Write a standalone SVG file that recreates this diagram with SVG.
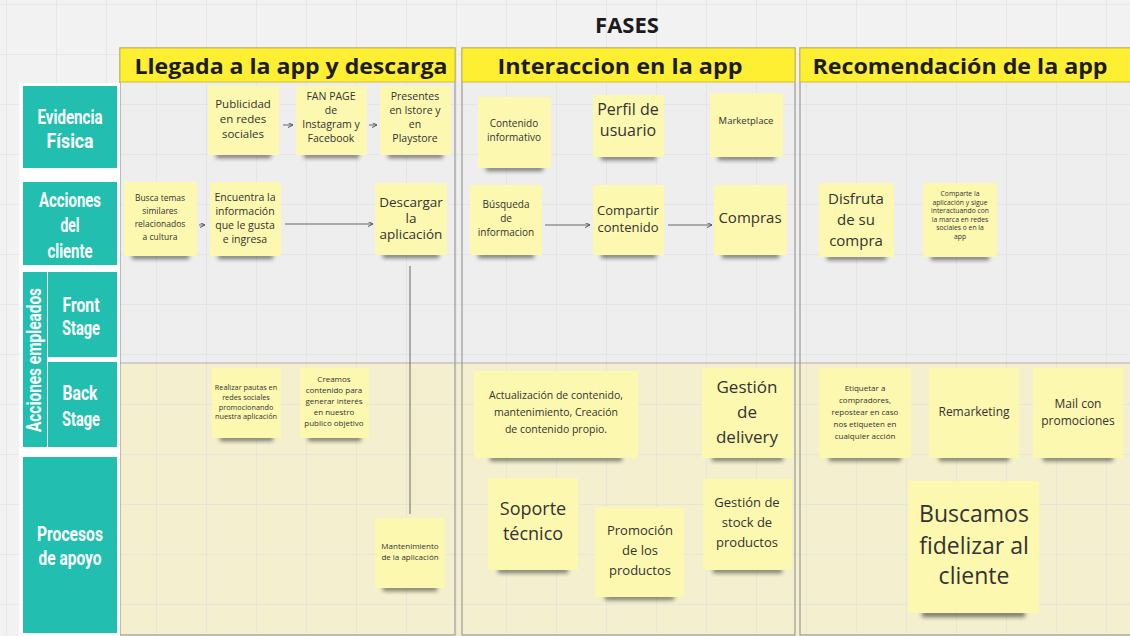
<svg xmlns="http://www.w3.org/2000/svg" width="1130" height="636" viewBox="0 0 1130 636">
<defs>
<pattern id="grid" x="7" y="5" width="50" height="50" patternUnits="userSpaceOnUse">
<path d="M50 0 V50 M0 50 H50" fill="none" stroke="#dcdcdc" stroke-width="1"/>
</pattern>
<filter id="blur" x="-30%" y="-200%" width="160%" height="500%"><feGaussianBlur stdDeviation="2.2"/></filter>
<marker id="arr" viewBox="0 0 6 6" refX="6" refY="3" markerWidth="5" markerHeight="5" markerUnits="userSpaceOnUse" orient="auto">
<path d="M0 0 L6 3 L0 6" fill="none" stroke="#555" stroke-width="1.2"/>
</marker>
</defs>
<style>
.n{fill:#fdf8b0}
.sh{fill:#222;opacity:.6;filter:url(#blur)}
.t{font-family:"Open Sans","Liberation Sans",sans-serif;fill:#333;text-anchor:middle}
.h{font-family:"Open Sans","Liberation Sans",sans-serif;font-weight:bold;fill:#1c1c1c;text-anchor:middle;font-size:22px}
.hb{fill:#feef33;stroke:#cdbd36;stroke-width:1}
.teal{fill:#22bfb1}
.lb{font-family:Roboto,"DejaVu Sans",sans-serif;font-weight:bold;fill:#fff;text-anchor:middle;font-size:20px}
.col{fill:none;stroke:#9a9a9a;stroke-width:1.2}
.c{stroke:#666;stroke-width:1;fill:none}
</style>
<rect width="1130" height="636" fill="#f2f2f2"/>
<g id="lanes">
<rect x="120" y="82" width="1010" height="281" fill="#eeeeee"/>
<rect x="120" y="363" width="1010" height="273" fill="#f4efcf"/>
</g>
<rect width="1130" height="636" fill="url(#grid)"/>
<g id="frames">
<line x1="120" y1="363" x2="1130" y2="363" stroke="#b0b0b0" stroke-width="1"/>
<rect class="col" x="120" y="48" width="335" height="587"/>
<rect class="col" x="462" y="48" width="333" height="587"/>
<rect class="col" x="800" y="48" width="340" height="587"/>
</g>
<text class="h" x="627" y="33" font-size="23">FASES</text>
<g id="header-1"><rect class="hb" x="120" y="48" width="335" height="34"/><text class="h" x="291" y="74" textLength="313" lengthAdjust="spacingAndGlyphs">Llegada a la app y descarga</text></g>
<g id="header-2"><rect class="hb" x="462" y="48" width="333" height="34"/><text class="h" x="620" y="74" textLength="245" lengthAdjust="spacingAndGlyphs">Interaccion en la app</text></g>
<g id="header-3"><rect class="hb" x="800" y="48" width="340" height="34"/><text class="h" x="960" y="74" textLength="295" lengthAdjust="spacingAndGlyphs">Recomendación de la app</text></g>
<rect x="19" y="83" width="101" height="553" fill="#ffffff"/>
<g id="row-evidencia"><rect class="teal" x="23" y="86" width="94" height="82"/>
<text class="lb" x="70" y="124" textLength="65" lengthAdjust="spacingAndGlyphs">Evidencia</text>
<text class="lb" x="70" y="148" textLength="47" lengthAdjust="spacingAndGlyphs">Física</text></g>
<g id="row-acciones-cliente"><rect class="teal" x="23" y="182" width="94" height="83"/>
<text class="lb" x="70" y="207" textLength="62" lengthAdjust="spacingAndGlyphs">Acciones</text>
<text class="lb" x="70" y="232" textLength="19" lengthAdjust="spacingAndGlyphs">del</text>
<text class="lb" x="70" y="258" textLength="45" lengthAdjust="spacingAndGlyphs">cliente</text></g>
<g id="row-acciones-empleados"><rect class="teal" x="23" y="272" width="24" height="175"/>
<text class="lb" transform="translate(41,360) rotate(-90)" x="0" y="0" textLength="144" lengthAdjust="spacingAndGlyphs">Acciones empleados</text></g>
<g id="row-front"><rect class="teal" x="48" y="272" width="69" height="85"/>
<text class="lb" x="81" y="312" textLength="37" lengthAdjust="spacingAndGlyphs">Front</text>
<text class="lb" x="81" y="335" textLength="38" lengthAdjust="spacingAndGlyphs">Stage</text></g>
<g id="row-back"><rect class="teal" x="48" y="362" width="69" height="85"/>
<text class="lb" x="80" y="400" textLength="35" lengthAdjust="spacingAndGlyphs">Back</text>
<text class="lb" x="81" y="426" textLength="38" lengthAdjust="spacingAndGlyphs">Stage</text></g>
<g id="row-procesos"><rect class="teal" x="23" y="457" width="94" height="176"/>
<text class="lb" x="70" y="541" textLength="66" lengthAdjust="spacingAndGlyphs">Procesos</text>
<text class="lb" x="70" y="565" textLength="63" lengthAdjust="spacingAndGlyphs">de apoyo</text></g>
<g id="connectors">
<line class="c" x1="283" y1="125" x2="293" y2="125" marker-end="url(#arr)"/>
<line class="c" x1="369" y1="125" x2="377" y2="125" marker-end="url(#arr)"/>
<line class="c" x1="199" y1="225" x2="205" y2="225" marker-end="url(#arr)"/>
<line class="c" x1="285" y1="224" x2="373" y2="224" marker-end="url(#arr)"/>
<line class="c" x1="410" y1="266" x2="410" y2="514" stroke-width="1.3"/>
<line class="c" x1="545" y1="225" x2="590" y2="225" marker-end="url(#arr)"/>
<line class="c" x1="668" y1="225" x2="712" y2="225" marker-end="url(#arr)"/>
</g>
<g id="n-publicidad"><rect class="sh" x="216" y="153" width="55" height="5"/><rect class="n" x="208" y="86" width="71" height="69"/>
<text class="t" font-size="11.5"><tspan x="243" y="108">Publicidad</tspan><tspan x="243" y="123">en redes</tspan><tspan x="243" y="138">sociales</tspan></text></g>
<g id="n-fanpage"><rect class="sh" x="304" y="153" width="55" height="5"/><rect class="n" x="296" y="86" width="71" height="69"/>
<text class="t" font-size="10.5"><tspan x="331" y="100">FAN PAGE</tspan><tspan x="331" y="114">de</tspan><tspan x="331" y="128">Instagram y</tspan><tspan x="331" y="142">Facebook</tspan></text></g>
<g id="n-presentes"><rect class="sh" x="388" y="153" width="55" height="5"/><rect class="n" x="380" y="86" width="71" height="69"/>
<text class="t" font-size="10.5"><tspan x="415" y="100">Presentes</tspan><tspan x="415" y="114">en Istore y</tspan><tspan x="415" y="128">en</tspan><tspan x="415" y="142">Playstore</tspan></text></g>
<g id="n-busca"><rect class="sh" x="132" y="254" width="57" height="5"/><rect class="n" x="124" y="182" width="73" height="74"/>
<text class="t" font-size="8.5"><tspan x="160" y="201">Busca temas</tspan><tspan x="160" y="214">similares</tspan><tspan x="160" y="227">relacionados</tspan><tspan x="160" y="240">a cultura</tspan></text></g>
<g id="n-encuentra"><rect class="sh" x="218" y="254" width="55" height="5"/><rect class="n" x="210" y="182" width="71" height="74"/>
<text class="t" font-size="10.5"><tspan x="245" y="201">Encuentra la</tspan><tspan x="245" y="215">información</tspan><tspan x="245" y="229">que le gusta</tspan><tspan x="245" y="243">e ingresa</tspan></text></g>
<g id="n-descargar"><rect class="sh" x="383" y="253" width="56" height="5"/><rect class="n" x="375" y="183" width="72" height="72"/>
<text class="t" font-size="13.5"><tspan x="411" y="207">Descargar</tspan><tspan x="411" y="223">la</tspan><tspan x="411" y="239">aplicación</tspan></text></g>
<g id="n-realizar"><rect class="sh" x="220" y="436" width="53" height="5"/><rect class="n" x="212" y="368" width="69" height="70"/>
<text class="t" font-size="7.3"><tspan x="246" y="390">Realizar pautas en</tspan><tspan x="246" y="400">redes sociales</tspan><tspan x="246" y="409.5">promocionando</tspan><tspan x="246" y="419">nuestra aplicación</tspan></text></g>
<g id="n-creamos"><rect class="sh" x="308" y="436" width="53" height="5"/><rect class="n" x="300" y="368" width="69" height="70"/>
<text class="t" font-size="8"><tspan x="334" y="382">Creamos</tspan><tspan x="334" y="393">contenido para</tspan><tspan x="334" y="404">generar interés</tspan><tspan x="334" y="415">en nuestro</tspan><tspan x="334" y="426">publico objetivo</tspan></text></g>
<g id="n-mantenimiento"><rect class="sh" x="383" y="586" width="54" height="5"/><rect class="n" x="375" y="518" width="70" height="70"/>
<text class="t" font-size="8"><tspan x="410" y="549">Mantenimiento</tspan><tspan x="410" y="560">de la aplicación</tspan></text></g>
<g id="n-contenido"><rect class="sh" x="486" y="166" width="57" height="5"/><rect class="n" x="478" y="97" width="73" height="71"/>
<text class="t" font-size="10"><tspan x="514" y="127">Contenido</tspan><tspan x="514" y="141">informativo</tspan></text></g>
<g id="n-perfil"><rect class="sh" x="601" y="155" width="55" height="5"/><rect class="n" x="593" y="95" width="71" height="62"/>
<text class="t" font-size="16"><tspan x="628" y="115">Perfil de</tspan><tspan x="628" y="136">usuario</tspan></text></g>
<g id="n-marketplace"><rect class="sh" x="718" y="155" width="57" height="5"/><rect class="n" x="710" y="93" width="73" height="64"/>
<text class="t" font-size="9.5" x="746" y="124">Marketplace</text></g>
<g id="n-busqueda"><rect class="sh" x="478" y="253" width="56" height="5"/><rect class="n" x="470" y="185" width="72" height="70"/>
<text class="t" font-size="10"><tspan x="506" y="208">Búsqueda</tspan><tspan x="506" y="222">de</tspan><tspan x="506" y="236">informacion</tspan></text></g>
<g id="n-compartir"><rect class="sh" x="601" y="253" width="55" height="5"/><rect class="n" x="593" y="185" width="71" height="70"/>
<text class="t" font-size="13"><tspan x="628" y="215">Compartir</tspan><tspan x="628" y="232">contenido</tspan></text></g>
<g id="n-compras"><rect class="sh" x="722" y="253" width="57" height="5"/><rect class="n" x="714" y="185" width="73" height="70"/>
<text class="t" font-size="15" x="750" y="223">Compras</text></g>
<g id="n-disfruta"><rect class="sh" x="827" y="255" width="59" height="5"/><rect class="n" x="819" y="183" width="75" height="74"/>
<text class="t" font-size="15"><tspan x="856" y="204">Disfruta</tspan><tspan x="856" y="225">de su</tspan><tspan x="856" y="246">compra</tspan></text></g>
<g id="n-comparte"><rect class="sh" x="931" y="255" width="58" height="5"/><rect class="n" x="923" y="183" width="74" height="74"/>
<text class="t" font-size="6.8"><tspan x="960" y="196">Comparte la</tspan><tspan x="960" y="204.5">aplicación y sigue</tspan><tspan x="960" y="213">interactuando con</tspan><tspan x="960" y="221.5">la marca en redes</tspan><tspan x="960" y="230">sociales o en la</tspan><tspan x="960" y="238.5">app</tspan></text></g>
<g id="n-actualizacion"><rect class="sh" x="490" y="456" width="132" height="5"/><rect class="n" x="474" y="371" width="164" height="87"/>
<text class="t" font-size="10.5"><tspan x="556" y="399">Actualización de contenido,</tspan><tspan x="556" y="416">mantenimiento, Creación</tspan><tspan x="556" y="433">de contenido propio.</tspan></text></g>
<g id="n-delivery"><rect class="sh" x="712" y="456" width="71" height="5"/><rect class="n" x="702" y="368" width="91" height="90"/>
<text class="t" font-size="17"><tspan x="747" y="393">Gestión</tspan><tspan x="747" y="418">de</tspan><tspan x="747" y="443">delivery</tspan></text></g>
<g id="n-soporte"><rect class="sh" x="498" y="568" width="70" height="5"/><rect class="n" x="488" y="478" width="90" height="92"/>
<text class="t" font-size="18"><tspan x="533" y="515">Soporte</tspan><tspan x="533" y="540">técnico</tspan></text></g>
<g id="n-promocion"><rect class="sh" x="605" y="595" width="69" height="5"/><rect class="n" x="595" y="507" width="89" height="90"/>
<text class="t" font-size="13"><tspan x="640" y="535">Promoción</tspan><tspan x="640" y="555">de los</tspan><tspan x="640" y="575">productos</tspan></text></g>
<g id="n-stock"><rect class="sh" x="713" y="568" width="69" height="5"/><rect class="n" x="703" y="479" width="89" height="91"/>
<text class="t" font-size="13"><tspan x="747" y="507">Gestión de</tspan><tspan x="747" y="527">stock de</tspan><tspan x="747" y="547">productos</tspan></text></g>
<g id="n-etiquetar"><rect class="sh" x="829" y="456" width="72" height="5"/><rect class="n" x="819" y="368" width="92" height="90"/>
<text class="t" font-size="8"><tspan x="865" y="391">Etiquetar a</tspan><tspan x="865" y="403">compradores,</tspan><tspan x="865" y="415">repostear en caso</tspan><tspan x="865" y="427">nos etiqueten en</tspan><tspan x="865" y="439">cualquier acción</tspan></text></g>
<g id="n-remarketing"><rect class="sh" x="939" y="456" width="70" height="5"/><rect class="n" x="929" y="368" width="90" height="90"/>
<text class="t" font-size="12" x="974" y="416">Remarketing</text></g>
<g id="n-mail"><rect class="sh" x="1043" y="456" width="70" height="5"/><rect class="n" x="1033" y="368" width="90" height="90"/>
<text class="t" font-size="12"><tspan x="1078" y="408">Mail con</tspan><tspan x="1078" y="425">promociones</tspan></text></g>
<g id="n-buscamos"><rect class="sh" x="922" y="611" width="103" height="6"/><rect class="n" x="908" y="481" width="131" height="132"/>
<text class="t" font-size="23"><tspan x="974" y="522">Buscamos</tspan><tspan x="974" y="554">fidelizar al</tspan><tspan x="974" y="584">cliente</tspan></text></g>
</svg>
